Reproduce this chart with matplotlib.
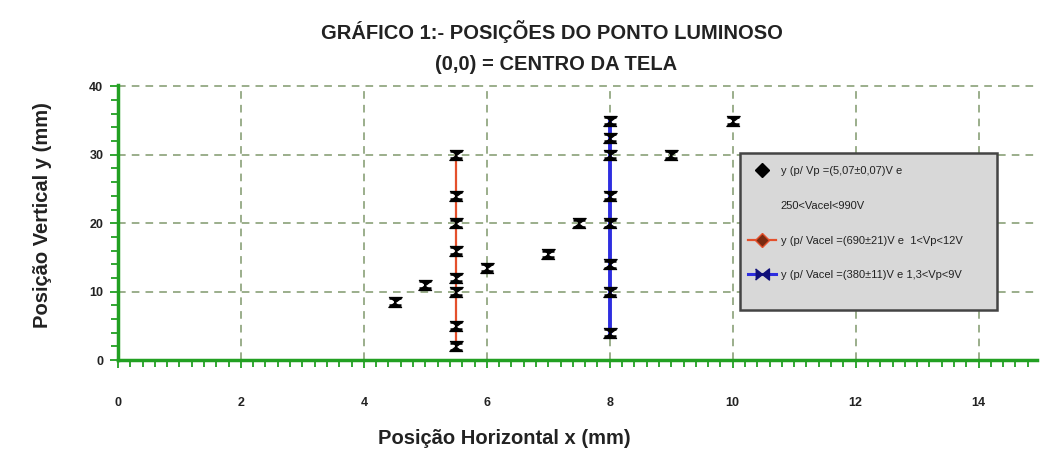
import numpy as np
import matplotlib
matplotlib.use("Agg")
import matplotlib.pyplot as plt
from matplotlib.lines import Line2D
from matplotlib.patches import Rectangle
from matplotlib.ticker import MultipleLocator

plt.rcParams['font.family'] = ['Liberation Sans', 'DejaVu Sans']

# --- data (mm) ---
# fixed Vp, varying Vacel
x_vp = [4.5, 5.0, 6.0, 7.0, 7.5, 9.0, 10.0]
y_vp = [8.5, 11.0, 13.5, 15.5, 20.0, 30.0, 35.0]

# Vacel = 690 V, varying Vp
x_v690 = [5.5, 5.5, 5.5, 5.5, 5.5, 5.5, 5.5, 5.5]
y_v690 = [2.0, 5.0, 10.0, 12.0, 16.0, 20.0, 24.0, 30.0]

# Vacel = 380 V, varying Vp
x_v380 = [8.0, 8.0, 8.0, 8.0, 8.0, 8.0, 8.0, 8.0]
y_v380 = [4.0, 10.0, 14.0, 20.0, 24.0, 30.0, 32.5, 35.0]

y_err = 0.5

labels = ["y (p/ Vp =(5,07\u00b10,07)V e",
          "250<Vacel<990V",
          "y (p/ Vacel =(690\u00b121)V e  1<Vp<12V",
          "y (p/ Vacel =(380\u00b111)V e 1,3<Vp<9V"]

green = '#22a022'
red = '#e4502c'
blue = '#2e2ee0'
ink = '#222222'

# hourglass-shaped point marker and bow-tie legend marker
hourglass = [(-1, 0.75), (1, 0.75), (-1, -0.75), (1, -0.75)]
bowtie = [(-1, 0.8), (1, -0.8), (1, 0.8), (-1, -0.8)]

fig = plt.figure(figsize=(10.56, 4.65), dpi=100)
ax = fig.add_axes([0.1117, 0.2258, 0.8703, 0.5914])

# connecting lines for the two vertical series
ax.plot(x_v690, y_v690, color=red, lw=1.6, zorder=2)
ax.plot(x_v380, y_v380, color=blue, lw=2.8, zorder=2)

eb = dict(fmt='none', ecolor='black', elinewidth=1.5, capsize=4, capthick=1.8, zorder=3)
for xs, ys in [(x_vp, y_vp), (x_v690, y_v690), (x_v380, y_v380)]:
    ax.errorbar(xs, ys, yerr=y_err, **eb)
    ax.plot(xs, ys, ls='none', marker=hourglass, ms=9.5, color='black', zorder=4)

ax.set_xlim(0, 14.95)
ax.set_ylim(0, 40.2)
ax.xaxis.set_major_locator(MultipleLocator(2))
ax.xaxis.set_minor_locator(MultipleLocator(0.2))
ax.yaxis.set_major_locator(MultipleLocator(10))
ax.yaxis.set_minor_locator(MultipleLocator(2))

for s in ['top', 'right']:
    ax.spines[s].set_visible(False)
for s in ['left', 'bottom']:
    ax.spines[s].set_color(green)
    ax.spines[s].set_linewidth(2.5)

ax.tick_params(axis='both', which='both', direction='out', color=green, width=1.3)
ax.tick_params(axis='both', which='major', length=5.5)
ax.tick_params(axis='both', which='minor', length=5)
ax.tick_params(axis='x', which='major', pad=21)
ax.tick_params(axis='y', which='major', pad=5)
for lbl in ax.get_xticklabels() + ax.get_yticklabels():
    lbl.set_fontsize(9)
    lbl.set_fontweight('bold')
    lbl.set_color(ink)

ax.grid(True, which='major', color='#80986c', lw=1.1, linestyle=(0, (5, 4)))
ax.set_axisbelow(True)

fig.text(0.523, 0.932, "GRÁFICO 1:- POSIÇÕES DO PONTO LUMINOSO", ha='center',
         va='center', fontsize=14.5, fontweight='bold', color=ink)
fig.text(0.527, 0.862, "(0,0) = CENTRO DA TELA", ha='center', va='center',
         fontsize=14.5, fontweight='bold', color=ink)
fig.text(0.478, 0.058, "Posição Horizontal x (mm)", ha='center', va='center',
         fontsize=14.5, fontweight='bold', color=ink)
fig.text(0.040, 0.538, "Posição Vertical y (mm)", ha='center', va='center',
         rotation=90, fontsize=14.5, fontweight='bold', color=ink)

# legend box drawn separately so its height can be set freely
ax.add_patch(Rectangle((0.677, 0.182), 0.2795, 0.5707, transform=ax.transAxes,
                       facecolor='#d8d8d8', edgecolor='#444444', lw=1.8, zorder=5))

handles = [
    Line2D([], [], ls='none', marker='D', color='black', ms=7),
    Line2D([], [], ls='none', marker=None),
    Line2D([], [], color=red, lw=1.6, marker='D', ms=7, mfc='#7a2a10', mec=red),
    Line2D([], [], color=blue, lw=2.2, marker=bowtie, ms=10, mfc='#10107a', mec='#10107a'),
]
leg = ax.legend(handles, labels, loc='upper left',
                bbox_to_anchor=(0.6705, 0.7527), borderaxespad=0, fontsize=8,
                frameon=False, borderpad=1.2, labelspacing=2.22,
                handlelength=2.6, handletextpad=0.4)
leg.set_zorder(6)
for t in leg.get_texts():
    t.set_color(ink)

fig.savefig('out.png', dpi=100)
